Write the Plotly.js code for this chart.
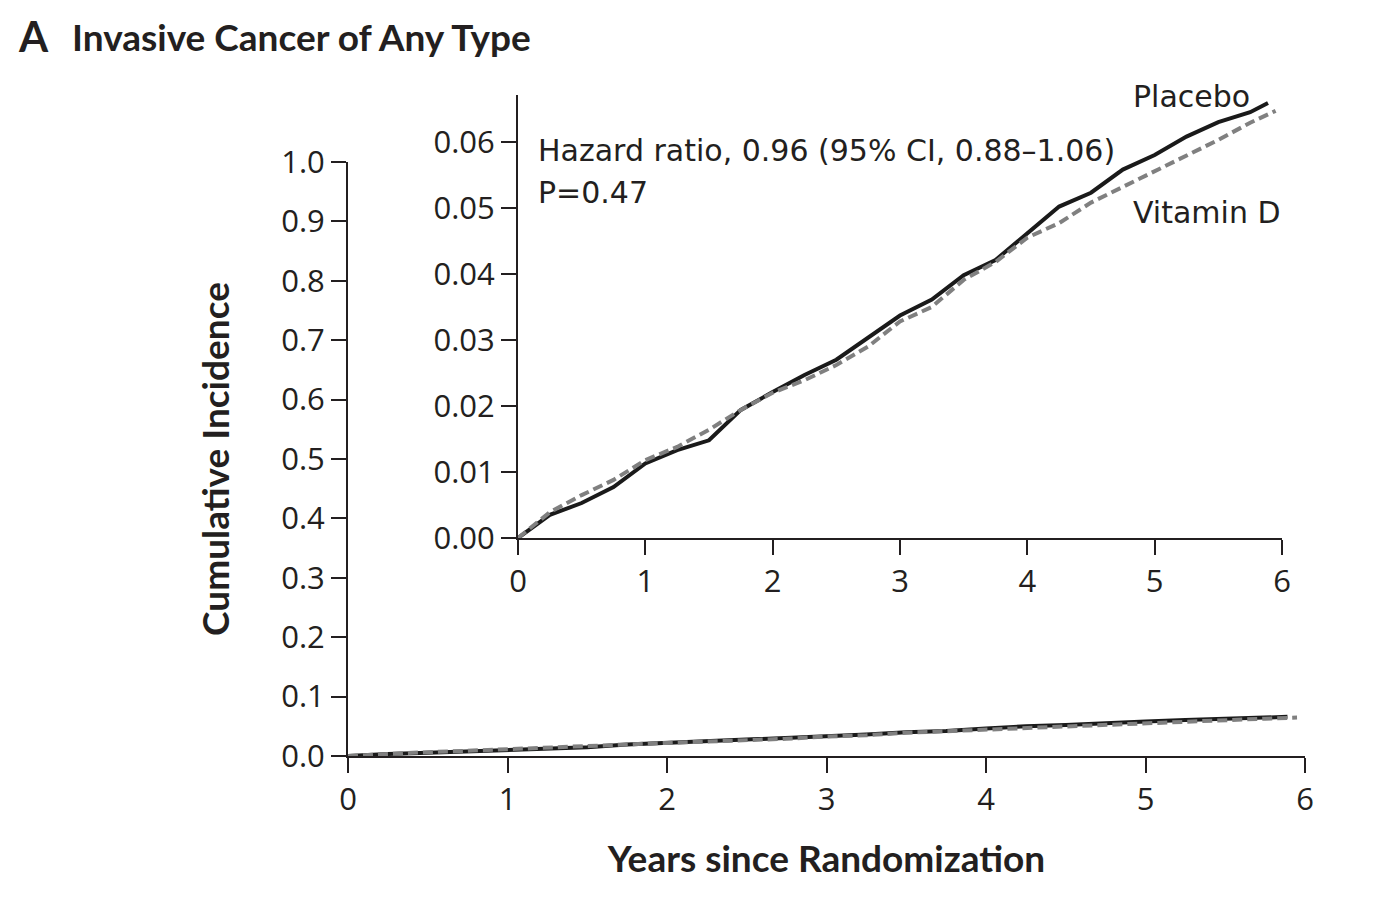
<!DOCTYPE html>
<html>
<head>
<meta charset="utf-8">
<script src="https://cdn.plot.ly/plotly-3.0.1.min.js"></script>
<style>html,body{margin:0;padding:0;background:#fff;}</style>
</head>
<body>
<div id="chart" style="width:1378px;height:904px;"></div>
<script>
// Years since randomization
const placeboYears = [0, 0.25, 0.5, 0.75, 1, 1.25, 1.5, 1.75, 2, 2.25, 2.5, 2.75, 3, 3.25, 3.5, 3.75, 4, 4.25, 4.5, 4.75, 5, 5.25, 5.5, 5.75, 5.89];
const placeboIncidence = [0, 0.0035, 0.0053, 0.0077, 0.0113, 0.0133, 0.0148, 0.0194, 0.0221, 0.0247, 0.0270, 0.0303, 0.0337, 0.0361, 0.0398, 0.0421, 0.0462, 0.0502, 0.0523, 0.0558, 0.0580, 0.0608, 0.0630, 0.0645, 0.0659];
const vitaminDYears = [0, 0.25, 0.5, 0.75, 1, 1.25, 1.5, 1.75, 2, 2.25, 2.5, 2.75, 3, 3.25, 3.5, 3.75, 4, 4.25, 4.5, 4.75, 5, 5.25, 5.5, 5.75, 5.95];
const vitaminDIncidence = [0, 0.0039, 0.0065, 0.0088, 0.0118, 0.0138, 0.0164, 0.0194, 0.0220, 0.0239, 0.0262, 0.0290, 0.0328, 0.0350, 0.0391, 0.0418, 0.0455, 0.0477, 0.0508, 0.0532, 0.0555, 0.0580, 0.0603, 0.0629, 0.0647];

const mainYTicks = [0, 0.1, 0.2, 0.3, 0.4, 0.5, 0.6, 0.7, 0.8, 0.9, 1.0];
const insetYTicks = [0, 0.01, 0.02, 0.03, 0.04, 0.05, 0.06];
const xTicks = [0, 1, 2, 3, 4, 5, 6];

const INK = '#231f20';
const GRAY = '#808080';
const FONT = '"Open Sans", Lato, sans-serif';
const NOTE = '"DejaVu Sans", "Open Sans", sans-serif';
const BOLD = 'Lato, "Open Sans", sans-serif';

// plot area: left 348, right 1305, top 95, bottom 756
const L = 348, R = 1305, T = 95, B = 756;
const px = x => (x - L) / (R - L);
const py = y => (B - y) / (B - T);

const solid = {color: '#1a1a1a', width: 4};
const dashed = {color: GRAY, width: 4, dash: '10px,5px'};

const traces = [
  {x: placeboYears, y: placeboIncidence, type: 'scatter', mode: 'lines', line: solid, xaxis: 'x', yaxis: 'y', name: 'Placebo', showlegend: false},
  {x: vitaminDYears, y: vitaminDIncidence, type: 'scatter', mode: 'lines', line: dashed, xaxis: 'x', yaxis: 'y', name: 'Vitamin D', showlegend: false},
  {x: placeboYears, y: placeboIncidence, type: 'scatter', mode: 'lines', line: solid, xaxis: 'x2', yaxis: 'y2', name: 'Placebo', showlegend: false},
  {x: vitaminDYears, y: vitaminDIncidence, type: 'scatter', mode: 'lines', line: dashed, xaxis: 'x2', yaxis: 'y2', name: 'Vitamin D', showlegend: false}
];

const axisCommon = {
  showline: true, linecolor: INK, linewidth: 2,
  ticks: 'outside', ticklen: 15, tickwidth: 2, tickcolor: INK,
  showgrid: false, zeroline: false,
  tickfont: {family: FONT, size: 31, color: INK}
};

const layout = {
  width: 1378, height: 904,
  margin: {l: L, r: 1378 - R, t: T, b: 904 - B, pad: 0},
  paper_bgcolor: '#fff', plot_bgcolor: 'rgba(0,0,0,0)',
  showlegend: false,
  xaxis: Object.assign({}, axisCommon, {
    domain: [0, 1], range: [0, 6], tickvals: xTicks, ticktext: xTicks.map(String),
    anchor: 'y',
    title: {text: 'Years since Randomization', font: {family: BOLD, size: 37, color: INK, weight: 'bold'}, standoff: 28}
  }),
  yaxis: Object.assign({}, axisCommon, {
    domain: [0, (B - 162) / (B - T)], range: [0, 1], tickvals: mainYTicks, ticktext: mainYTicks.map(v => v.toFixed(1)),
    anchor: 'x',
    title: {text: 'Cumulative Incidence', font: {family: BOLD, size: 37, color: INK, weight: 'bold'}, standoff: 40}
  }),
  xaxis2: Object.assign({}, axisCommon, {
    domain: [px(518), px(1282)], range: [0, 6], tickvals: xTicks, ticktext: xTicks.map(String),
    anchor: 'y2'
  }),
  yaxis2: Object.assign({}, axisCommon, {
    domain: [py(538), 1], range: [0, 0.0671], tickvals: insetYTicks, ticktext: insetYTicks.map(v => v.toFixed(2)),
    anchor: 'x2'
  }),
  annotations: [
    {text: 'A', xref: 'paper', yref: 'paper', x: px(16), y: py(36), xanchor: 'left', yanchor: 'middle', showarrow: false,
     font: {family: BOLD, size: 42, color: INK, weight: 'bold'}},
    {text: 'Invasive Cancer of Any Type', xref: 'paper', yref: 'paper', x: px(70), y: py(36), xanchor: 'left', yanchor: 'middle', showarrow: false,
     font: {family: BOLD, size: 37, color: INK, weight: 'bold'}},
    {text: 'Hazard ratio, 0.96 (95% CI, 0.88–1.06)', xref: 'paper', yref: 'paper', x: px(536), y: py(150), xanchor: 'left', yanchor: 'middle', showarrow: false,
     font: {family: NOTE, size: 30, color: INK}},
    {text: 'P=0.47', xref: 'paper', yref: 'paper', x: px(536), y: py(192), xanchor: 'left', yanchor: 'middle', showarrow: false,
     font: {family: NOTE, size: 30, color: INK}},
    {text: 'Placebo', xref: 'paper', yref: 'paper', x: px(1131), y: py(96), xanchor: 'left', yanchor: 'middle', showarrow: false,
     font: {family: NOTE, size: 30, color: INK}},
    {text: 'Vitamin D', xref: 'paper', yref: 'paper', x: px(1131), y: py(213), xanchor: 'left', yanchor: 'middle', showarrow: false,
     font: {family: NOTE, size: 30, color: INK}}
  ]
};

Plotly.newPlot('chart', traces, layout, {displayModeBar: false, staticPlot: true});
</script>
</body>
</html>
